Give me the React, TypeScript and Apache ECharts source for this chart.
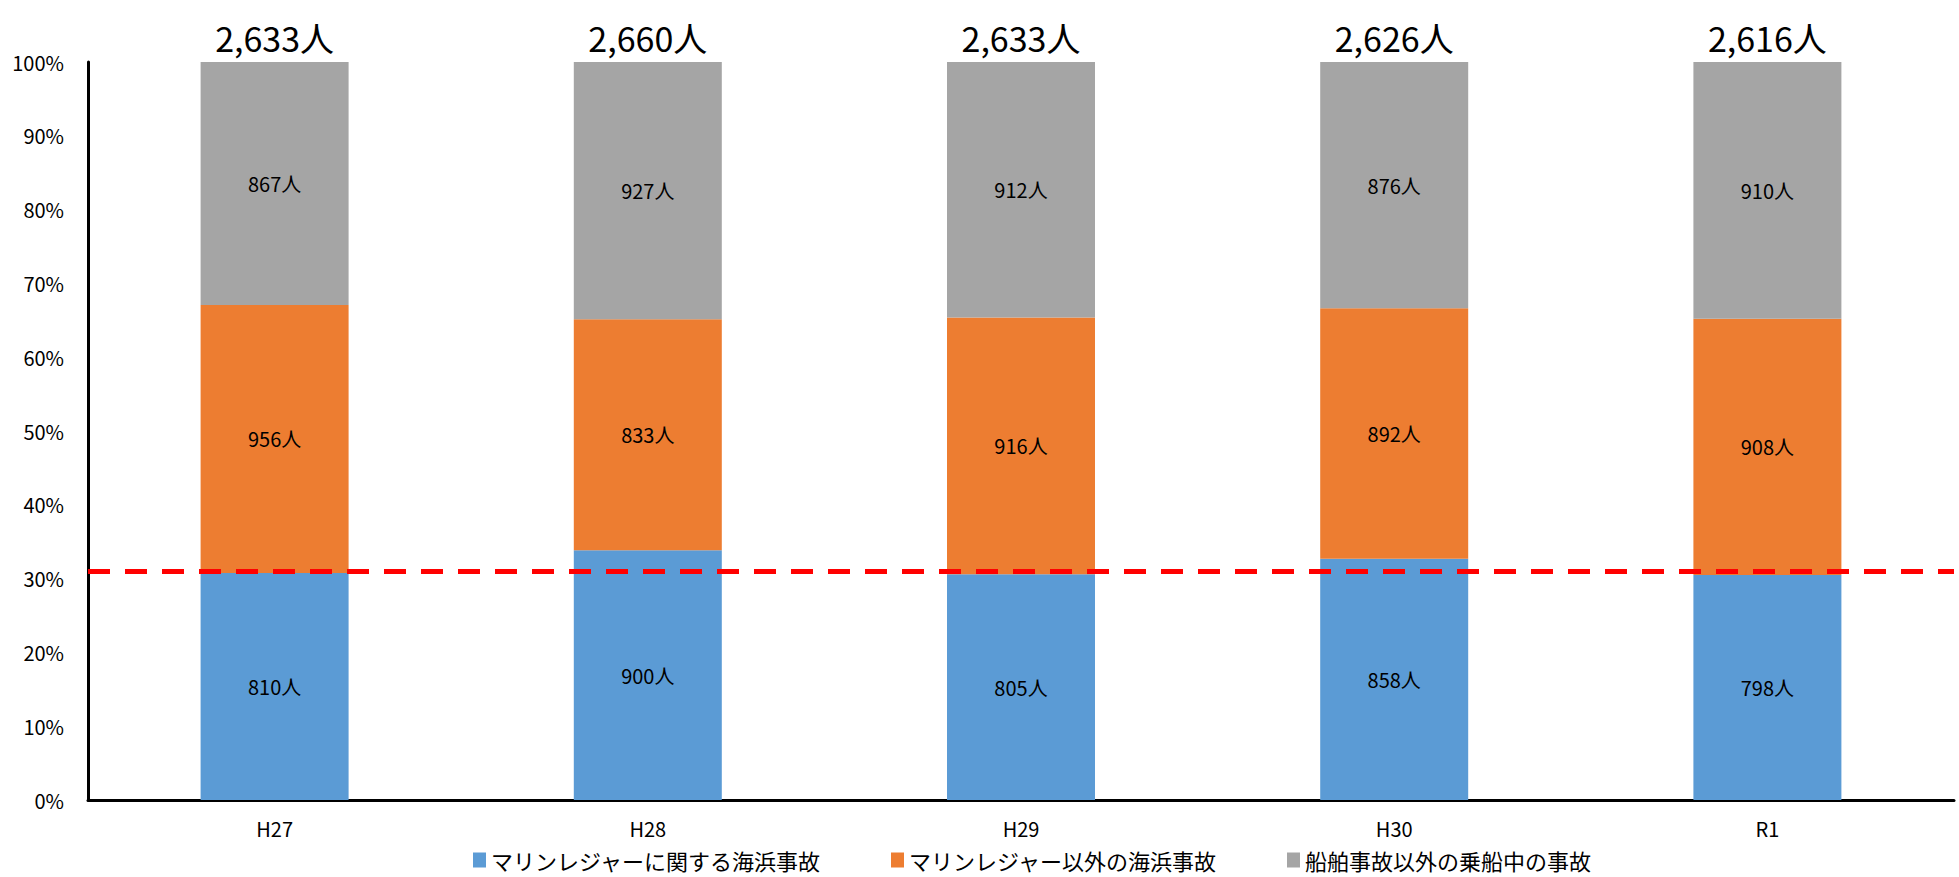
import React, { useEffect, useRef } from "react";
import * as echarts from "echarts";

const categories = ["H27", "H28", "H29", "H30", "R1"];
const seriesNames = ["マリンレジャーに関する海浜事故", "マリンレジャー以外の海浜事故", "船舶事故以外の乗船中の事故"];
const marineLeisure = [810, 900, 805, 858, 798];
const nonMarineBeach = [956, 833, 916, 892, 908];
const onboardOther = [867, 927, 912, 876, 910];
const yTickLabels = ["0%", "10%", "20%", "30%", "40%", "50%", "60%", "70%", "80%", "90%", "100%"];
const referenceLinePct = 31;

const colors = ["#5B9BD5", "#ED7D31", "#A5A5A5"];
const FONT = "'Noto Sans CJK JP', 'Noto Sans', sans-serif";

export default function App() {
  const ref = useRef<HTMLDivElement>(null);
  useEffect(() => {
    if (!ref.current) return;
    const chart = echarts.init(ref.current, undefined, { renderer: "svg" });
    const raw = [marineLeisure, nonMarineBeach, onboardOther];
    const totals = categories.map((_, i) => raw.reduce((s, arr) => s + arr[i], 0));
    const fmt = (n: number) => n.toLocaleString("en-US") + "人";

    const series: any[] = raw.map((arr, si) => ({
      name: seriesNames[si],
      type: "bar",
      stack: "total",
      barWidth: 148,
      itemStyle: { color: colors[si] },
      data: arr.map((v, i) => ({ value: (v / totals[i]) * 100, raw: v })),
      label: {
        show: true,
        position: "inside",
        fontSize: 20,
        color: "#000000",
        fontFamily: FONT,
        formatter: (p: any) => fmt(p.data.raw),
      },
      markLine:
        si === 0
          ? {
              silent: true,
              symbol: "none",
              label: { show: false },
              lineStyle: { color: "#FF0000", width: 5, type: [22, 15] },
              data: [{ yAxis: referenceLinePct }],
            }
          : undefined,
    }));

    series.push({
      name: "total",
      type: "bar",
      stack: "total",
      barWidth: 148,
      clip: false,
      itemStyle: { color: "transparent" },
      data: totals.map(() => 0),
      label: {
        show: true,
        position: "top",
        distance: 8,
        fontSize: 34,
        color: "#000000",
        fontFamily: FONT,
        formatter: (p: any) => fmt(totals[p.dataIndex]),
      },
      labelLayout: { hideOverlap: false },
    });

    chart.setOption({
      animation: false,
      textStyle: { fontFamily: FONT },
      grid: { left: 88, right: 5, top: 62, bottom: 77, containLabel: false },
      legend: {
        data: seriesNames,
        left: 468,
        top: 844,
        itemWidth: 13,
        itemHeight: 15,
        itemGap: 70,
        icon: "rect",
        textStyle: { fontSize: 22, color: "#000000", fontFamily: FONT },
      },
      xAxis: {
        type: "category",
        data: categories,
        axisLine: { lineStyle: { color: "#000000", width: 3 } },
        axisTick: { show: false },
        axisLabel: { fontSize: 20, color: "#000000", margin: 18 },
      },
      yAxis: {
        type: "value",
        min: 0,
        max: 100,
        interval: 10,
        axisLine: { show: true, lineStyle: { color: "#000000", width: 3 } },
        axisTick: { show: false },
        splitLine: { show: false },
        axisLabel: {
          fontSize: 20,
          color: "#000000",
          margin: 24,
          formatter: (v: number) => yTickLabels[Math.round(v / 10)],
        },
      },
      series,
    });
    return () => chart.dispose();
  }, []);
  return <div ref={ref} style={{ position: "absolute", left: 0, top: 0, width: 1959, height: 877 }} />;
}
